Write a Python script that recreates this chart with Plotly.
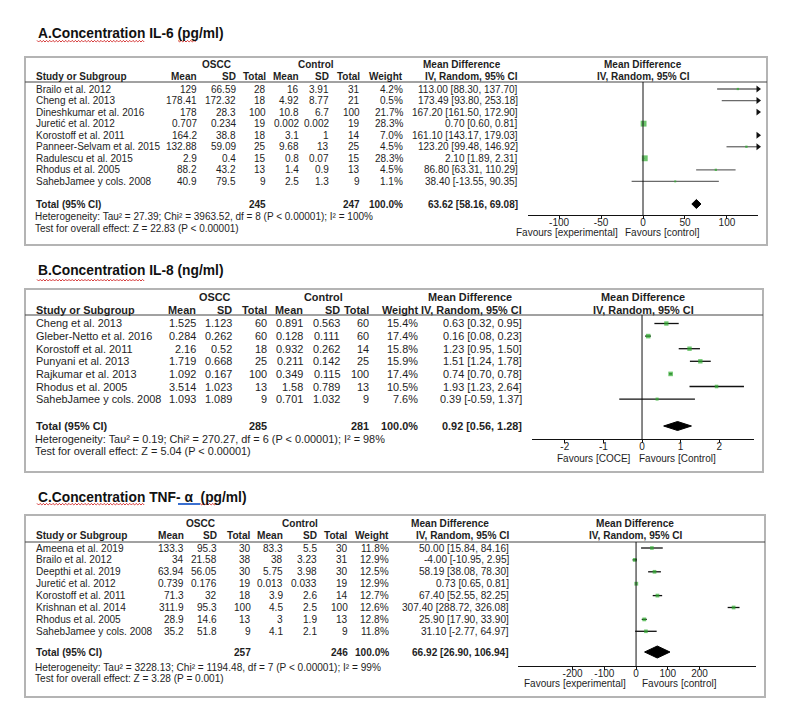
import math
import plotly.graph_objects as go

W, H = 791, 714
OFF = 8                      # page body margin
FW, FH = W - 2 * OFF, H - 2 * OFF
FONT = "Liberation Sans, Arial, sans-serif"
TFONT = "Liberation Sans, Arial, sans-serif"
TXT = "#1e1e1e"

# ---------------- Panel A: IL-6 ----------------
a_title = "A.Concentration IL-6 (pg/ml)"
a_studies = ["Brailo et al. 2012", "Cheng et al. 2013", "Dineshkumar et al. 2016", "Juretić et al. 2012",
             "Korostoff et al. 2011", "Panneer-Selvam et al. 2015", "Radulescu et al. 2015",
             "Rhodus et al. 2005", "SahebJamee y cols. 2008"]
a_oscc_mean = [129, 178.41, 178, 0.707, 164.2, 132.88, 2.9, 88.2, 40.9]
a_oscc_sd = [66.59, 172.32, 28.3, 0.234, 38.8, 59.09, 0.4, 43.2, 79.5]
a_oscc_n = [28, 18, 100, 19, 18, 25, 15, 13, 9]
a_ctrl_mean = [16, 4.92, 10.8, 0.002, 3.1, 9.68, 0.8, 1.4, 2.5]
a_ctrl_sd = [3.91, 8.77, 6.7, 0.002, 1, 13, 0.07, 0.9, 1.3]
a_ctrl_n = [31, 21, 100, 19, 14, 25, 15, 13, 9]
a_weight = [4.2, 0.5, 21.7, 28.3, 7.0, 4.5, 28.3, 4.5, 1.1]
a_md = [113.00, 173.49, 167.20, 0.70, 161.10, 123.20, 2.10, 86.80, 38.40]
a_lo = [88.30, 93.80, 161.50, 0.60, 143.17, 99.48, 1.89, 63.31, -13.55]
a_hi = [137.70, 253.18, 172.90, 0.81, 179.03, 146.92, 2.31, 110.29, 90.35]
a_total_n = [245, 247]
a_pooled = [63.62, 58.16, 69.08]
a_het = "Heterogeneity: Tau² = 27.39; Chi² = 3963.52, df = 8 (P &lt; 0.00001); I² = 100%"
a_test = "Test for overall effect: Z = 22.83 (P &lt; 0.00001)"
a_ticks = [-100, -50, 0, 50, 100]
a_favours = ["Favours [experimental]", "Favours [control]"]

# ---------------- Panel B: IL-8 ----------------
b_title = "B.Concentration IL-8 (ng/ml)"
b_studies = ["Cheng et al. 2013", "Gleber-Netto et al. 2016", "Korostoff et al. 2011", "Punyani et al. 2013",
             "Rajkumar et al. 2013", "Rhodus et al. 2005", "SahebJamee y cols. 2008"]
b_oscc_mean = [1.525, 0.284, 2.16, 1.719, 1.092, 3.514, 1.093]
b_oscc_sd = [1.123, 0.262, 0.52, 0.668, 0.167, 1.023, 1.089]
b_oscc_n = [60, 60, 18, 25, 100, 13, 9]
b_ctrl_mean = [0.891, 0.128, 0.932, 0.211, 0.349, 1.58, 0.701]
b_ctrl_sd = [0.563, 0.111, 0.262, 0.142, 0.115, 0.789, 1.032]
b_ctrl_n = [60, 60, 14, 25, 100, 13, 9]
b_weight = [15.4, 17.4, 15.8, 15.9, 17.4, 10.5, 7.6]
b_md = [0.63, 0.16, 1.23, 1.51, 0.74, 1.93, 0.39]
b_lo = [0.32, 0.08, 0.95, 1.24, 0.70, 1.23, -0.59]
b_hi = [0.95, 0.23, 1.50, 1.78, 0.78, 2.64, 1.37]
b_total_n = [285, 281]
b_pooled = [0.92, 0.56, 1.28]
b_het = "Heterogeneity: Tau² = 0.19; Chi² = 270.27, df = 6 (P &lt; 0.00001); I² = 98%"
b_test = "Test for overall effect: Z = 5.04 (P &lt; 0.00001)"
b_ticks = [-2, -1, 0, 1, 2]
b_favours = ["Favours [COCE]", "Favours [Control]"]

# ---------------- Panel C: TNF-alpha ----------------
c_title = "C.Concentration TNF- α  (pg/ml)"
c_studies = ["Ameena et al. 2019", "Brailo et al. 2012", "Deepthi et al. 2019", "Juretić et al. 2012",
             "Korostoff et al. 2011", "Krishnan et al. 2014", "Rhodus et al. 2005", "SahebJamee y cols. 2008"]
c_oscc_mean = [133.3, 34, 63.94, 0.739, 71.3, 311.9, 28.9, 35.2]
c_oscc_sd = [95.3, 21.58, 56.05, 0.176, 32, 95.3, 14.6, 51.8]
c_oscc_n = [30, 38, 30, 19, 18, 100, 13, 9]
c_ctrl_mean = [83.3, 38, 5.75, 0.013, 3.9, 4.5, 3, 4.1]
c_ctrl_sd = [5.5, 3.23, 3.98, 0.033, 2.6, 2.5, 1.9, 2.1]
c_ctrl_n = [30, 31, 30, 19, 14, 100, 13, 9]
c_weight = [11.8, 12.9, 12.5, 12.9, 12.7, 12.6, 12.8, 11.8]
c_md = [50.00, -4.00, 58.19, 0.73, 67.40, 307.40, 25.90, 31.10]
c_lo = [15.84, -10.95, 38.08, 0.65, 52.55, 288.72, 17.90, -2.77]
c_hi = [84.16, 2.95, 78.30, 0.81, 82.25, 326.08, 33.90, 64.97]
c_total_n = [257, 246]
c_pooled = [66.92, 26.90, 106.94]
c_het = "Heterogeneity: Tau² = 3228.13; Chi² = 1194.48, df = 7 (P &lt; 0.00001); I² = 99%"
c_test = "Test for overall effect: Z = 3.28 (P = 0.001)"
c_ticks = [-200, -100, 0, 100, 200]
c_favours = ["Favours [experimental]", "Favours [control]"]


def fmt(v):
    return str(v) if isinstance(v, int) else f"{v:g}"


def ci(m, l, h):
    return f"{m:.2f} [{l:.2f}, {h:.2f}]"


fig = go.Figure()
annotations = []
shapes = []


def X(p):
    return (p - OFF) / FW


def Y(p):
    return 1 - (p - OFF) / FH


def txt(x, y, s, anchor="left", size=11, bold=False, color=TXT, family=FONT):
    annotations.append(dict(x=X(x), y=Y(y), xref="paper", yref="paper",
                            text=f"<b>{s}</b>" if bold else s, showarrow=False,
                            xanchor=anchor, yanchor="middle", borderpad=0,
                            font=dict(family=family, size=size, color=color)))


def wavy(x0, x1, y, color="#d02020"):
    pts = []
    x = x0
    k = 0
    while x <= x1:
        pts.append((x, y + (1.0 if k % 2 else -0.6)))
        x += 1.6
        k += 1
    path = "M " + " L ".join(f"{X(a):.5f},{Y(b):.5f}" for a, b in pts)
    shapes.append(dict(type="path", path=path, xref="paper", yref="paper",
                       line=dict(color=color, width=0.9)))


def panel(s, cfg, studies, om, osd, on, cm, csd, cn, wt, md, lo, hi, tot, pooled, het, test, ticks, fav):
    fs = cfg["fs"]
    bx0, bx1, by0, by1 = cfg["box"]
    shapes.append(dict(type="rect", xref="paper", yref="paper", x0=X(bx0), x1=X(bx1), y0=Y(by1), y1=Y(by0),
                       line=dict(color="#b4b4b4", width=2), fillcolor="rgba(0,0,0,0)"))
    shapes.append(dict(type="line", xref="paper", yref="paper", x0=X(bx0), x1=X(bx1),
                       y0=Y(cfg["uline"]), y1=Y(cfg["uline"]), line=dict(color="#444", width=1)))
    txt(37, cfg["title_y"], cfg["title"], size=13.8, bold=True, color="#111", family=TFONT)
    c = cfg["cols"]
    h1, h2 = cfg["hdr"]
    txt(c["oscc_c"], h1, "OSCC", "center", fs, True)
    txt(c["ctrl_c"], h1, "Control", "center", fs, True)
    txt(c["md_c"], h1, "Mean Difference", "center", fs, True)
    txt(c["fp_c"], h1, "Mean Difference", "center", fs, True)
    txt(35, h2, "Study or Subgroup", "left", fs, True)
    for key, lab in [("om", "Mean"), ("osd", "SD"), ("on", "Total"), ("cm", "Mean"), ("csd", "SD"),
                     ("cn", "Total"), ("wt", "Weight"), ("ci", "IV, Random, 95% CI")]:
        txt(c[key], h2, lab, "right", fs, True)
    txt(c["fp_c"], h2, "IV, Random, 95% CI", "center", fs, True)
    rows = [cfg["row0"] + i * cfg["dy"] for i in range(len(studies))]
    for i, y in enumerate(rows):
        txt(35, y, studies[i], "left", fs)
        txt(c["om"], y, fmt(om[i]), "right", fs)
        txt(c["osd"], y, fmt(osd[i]), "right", fs)
        txt(c["on"], y, fmt(on[i]), "right", fs)
        txt(c["cm"], y, fmt(cm[i]), "right", fs)
        txt(c["csd"], y, fmt(csd[i]), "right", fs)
        txt(c["cn"], y, fmt(cn[i]), "right", fs)
        txt(c["wt"], y, f"{wt[i]:.1f}%", "right", fs)
        txt(c["ci"], y, ci(md[i], lo[i], hi[i]), "right", fs)
    ty = cfg["total_y"]
    txt(35, ty, "Total (95% CI)", "left", fs, True)
    txt(c["on"], ty, str(tot[0]), "right", fs, True)
    txt(c["cn"], ty, str(tot[1]), "right", fs, True)
    txt(c["wt"], ty, "100.0%", "right", fs, True)
    txt(c["ci"], ty, ci(*pooled), "right", fs, True)
    txt(34, cfg["het_y"], het, "left", fs)
    txt(34, cfg["test_y"], test, "left", fs)
    tfs = min(fs, 10)
    txt(cfg["fav"][0], cfg["fav_y"], fav[0], "right", tfs)
    txt(cfg["fav"][1], cfg["fav_y"], fav[1], "left", tfs)

    xa, ya = ("x" + s, "y" + s)
    xmin, xmax = cfg["xr"]
    ax0, ax1 = cfg["ax"]
    yt, yb = cfg["uline"], cfg["axis_y"]
    fig.update_layout(**{
        "xaxis" + s: dict(domain=[X(ax0), X(ax1)], range=[xmin, xmax], anchor="y" + s, showline=True,
                          linecolor="#111", linewidth=1, ticks="outside", ticklen=3, tickcolor="#111",
                          tickvals=ticks, ticktext=[str(t) for t in ticks], showgrid=False, zeroline=False,
                          ticklabelstandoff=-5,
                          tickfont=dict(family=FONT, size=tfs, color=TXT), fixedrange=True),
        "yaxis" + s: dict(domain=[Y(yb), Y(yt)], range=[yb, yt], anchor="x" + s, visible=False,
                          showgrid=False, zeroline=False, fixedrange=True),
    })
    shapes.append(dict(type="line", xref=xa, yref="paper", x0=0, x1=0, y0=Y(yb), y1=Y(yt),
                       line=dict(color="#111", width=1)))
    lx, ly = [], []
    for i, y in enumerate(rows):
        a, b = max(lo[i], xmin), min(hi[i], xmax)
        if a < b:
            lx += [a, b, None]
            ly += [y, y, None]
    fig.add_trace(go.Scatter(x=lx, y=ly, xaxis=xa, yaxis=ya, mode="lines",
                             line=dict(color=cfg["ci_color"], width=1.3), hoverinfo="skip"))
    mi = [i for i in range(len(rows)) if xmin <= md[i] <= xmax]
    fig.add_trace(go.Scatter(x=[md[i] for i in mi], y=[rows[i] for i in mi], xaxis=xa, yaxis=ya,
                             mode="markers",
                             marker=dict(symbol="square", color="#2fae2f",
                                         size=[max(2.0, cfg["sq"] * math.sqrt(wt[i])) for i in mi],
                                         line=dict(width=0))))
    ar = [i for i in range(len(rows)) if hi[i] > xmax]
    if ar:
        fig.add_trace(go.Scatter(x=[xmax] * len(ar), y=[rows[i] for i in ar], xaxis=xa, yaxis=ya,
                                 mode="markers", cliponaxis=False,
                                 marker=dict(symbol="triangle-right", color="#111", size=6)))
    m, l, h = pooled
    dh = cfg["dh"]
    fig.add_trace(go.Scatter(x=[l, m, h, m, l], y=[ty, ty - dh, ty, ty + dh, ty], xaxis=xa, yaxis=ya,
                             mode="lines", fill="toself", fillcolor="#000", line=dict(color="#000", width=1)))


cfgA = dict(title=a_title, title_y=33, box=(25, 767, 57, 245), uline=82, hdr=(64, 76), fs=10,
            row0=89, dy=11.55, total_y=204, het_y=217, test_y=228,
            cols=dict(oscc_c=216, ctrl_c=316, md_c=462, fp_c=643, om=198, osd=237, on=267, cm=300, csd=330,
                      cn=361, wt=404, ci=519),
            xr=(-137, 137), ax=(528, 758), axis_y=215, fav=(619, 624), fav_y=232, ci_color="#6a6a6a",
            sq=1.1, dh=4.5)
cfgB = dict(title=b_title, title_y=270, box=(25, 763, 289, 472), uline=315, hdr=(297, 310), fs=10.9,
            row0=323.5, dy=12.6, total_y=426, het_y=439, test_y=451,
            cols=dict(oscc_c=215, ctrl_c=323, md_c=470, fp_c=643, om=197, osd=233, on=268, cm=304, csd=341,
                      cn=370, wt=419, ci=523),
            xr=(-2.85, 2.9), ax=(532, 754), axis_y=439, fav=(632, 638), fav_y=458, ci_color="#111",
            sq=1.1, dh=4.5)
cfgC = dict(title=c_title, title_y=497, box=(25, 765, 515, 697), uline=542, hdr=(523, 535), fs=10.1,
            row0=548, dy=11.9, total_y=652, het_y=667, test_y=678,
            cols=dict(oscc_c=201, ctrl_c=300, md_c=450, fp_c=635, om=185, osd=218, on=252, cm=284, csd=318,
                      cn=349, wt=390, ci=510),
            xr=(-372, 378), ax=(518, 756), axis_y=666, fav=(627, 641), fav_y=683, ci_color="#111",
            sq=1.05, dh=6)

panel("", cfgA, a_studies, a_oscc_mean, a_oscc_sd, a_oscc_n, a_ctrl_mean, a_ctrl_sd, a_ctrl_n, a_weight,
      a_md, a_lo, a_hi, a_total_n, a_pooled, a_het, a_test, a_ticks, a_favours)
panel("2", cfgB, b_studies, b_oscc_mean, b_oscc_sd, b_oscc_n, b_ctrl_mean, b_ctrl_sd, b_ctrl_n, b_weight,
      b_md, b_lo, b_hi, b_total_n, b_pooled, b_het, b_test, b_ticks, b_favours)
panel("3", cfgC, c_studies, c_oscc_mean, c_oscc_sd, c_oscc_n, c_ctrl_mean, c_ctrl_sd, c_ctrl_n, c_weight,
      c_md, c_lo, c_hi, c_total_n, c_pooled, c_het, c_test, c_ticks, c_favours)

wavy(37, 145, 41)
wavy(178, 197, 41)
wavy(37, 145, 280)
wavy(37, 145, 504)
wavy(200, 217, 504)
shapes.append(dict(type="line", xref="paper", yref="paper", x0=X(178), x1=X(200), y0=Y(504), y1=Y(504),
                   line=dict(color="#3a6fd0", width=2)))

fig.update_layout(width=FW, height=FH, margin=dict(l=0, r=0, t=0, b=0), paper_bgcolor="white",
                  plot_bgcolor="rgba(0,0,0,0)", showlegend=False, annotations=annotations, shapes=shapes)
fig.write_html("out.html")
